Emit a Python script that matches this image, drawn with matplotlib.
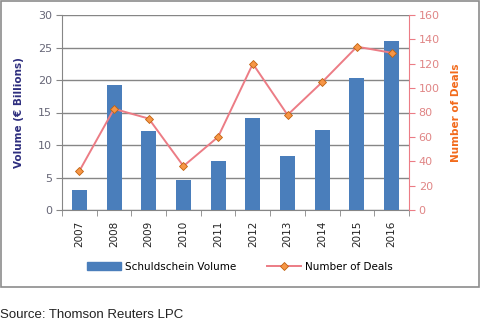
import numpy as np
import matplotlib
matplotlib.use("Agg")
import matplotlib.pyplot as plt
from matplotlib.lines import Line2D
from matplotlib.patches import Patch, Rectangle

years = ["2007", "2008", "2009", "2010", "2011", "2012", "2013", "2014", "2015", "2016"]
volume = [3.1, 19.2, 12.1, 4.6, 7.5, 14.1, 8.3, 12.3, 20.3, 26.0]
deals = [32, 83, 75, 36, 60, 120, 78, 105, 134, 129]

BAR = "#4A7EBB"
LINE = "#EC7C85"
MARK = "#F79646"
MARK_EDGE = "#C0620F"
GRID = "#868686"

fig = plt.figure(figsize=(4.81, 3.26), dpi=100)
fig.patch.set_facecolor("white")

# outer chart frame
fig.add_artist(Rectangle((0.5 / 481, 1 - 287 / 326), 479 / 481, 286 / 326,
                         transform=fig.transFigure, fill=False,
                         edgecolor="#8C8C8C", linewidth=1.2))

ax = fig.add_axes([62 / 481, 1 - 210 / 326, 347 / 481, 195 / 326])
x = np.arange(len(years))
ax.bar(x, volume, width=0.43, color=BAR, zorder=3)
ax.set_xlim(-0.5, len(years) - 0.5)
ax.set_ylim(0, 30)
ax.set_yticks(np.arange(0, 31, 5))
ax.yaxis.grid(True, color=GRID, linewidth=1.0, zorder=0)
ax.set_axisbelow(True)
ax.set_xticks(x)
ax.set_xticklabels(years, rotation=90, fontsize=7.5, color="#222222")
ax.set_xticks(np.arange(-0.5, len(years), 1), minor=True)
ax.tick_params(axis="x", which="major", length=0, pad=8)
ax.tick_params(axis="x", which="minor", length=4, color=GRID, direction="out")
ax.tick_params(axis="y", length=4, color=GRID, labelsize=8, labelcolor="#666677", pad=3)
for s in ("top", "right"):
    ax.spines[s].set_visible(False)
for s in ("left", "bottom"):
    ax.spines[s].set_color(GRID)
ax.set_ylabel("Volume (€ Billions)", fontsize=7.5, fontweight="bold", color="#2E2E7E", labelpad=10)

ax2 = ax.twinx()
ax2.set_ylim(0, 160)
ax2.set_yticks(np.arange(0, 161, 20))
ax2.plot(x, deals, color=LINE, linewidth=1.4, zorder=4,
         linestyle="-", marker="D", markersize=4.5,
         markerfacecolor=MARK, markeredgecolor=MARK_EDGE, markeredgewidth=0.6)
for s in ("top", "left", "bottom"):
    ax2.spines[s].set_visible(False)
ax2.spines["right"].set_color(LINE)
ax2.tick_params(axis="y", length=4, color=LINE, labelsize=8, labelcolor="#E08585", pad=3)
ax2.set_ylabel("Number of Deals", fontsize=7.5, fontweight="bold", color="#F26A1B", labelpad=8)

handles = [Patch(facecolor=BAR, edgecolor=BAR),
           Line2D([0], [0], color=LINE, linewidth=1.4, marker="D", markersize=4.5,
                  markerfacecolor=MARK, markeredgecolor=MARK_EDGE, markeredgewidth=0.6)]
fig.legend(handles, ["Schuldschein Volume", "Number of Deals"], loc="center",
           bbox_to_anchor=(240 / 481, 1 - 267 / 326), ncol=2, frameon=False,
           fontsize=7.5, handlelength=3.2, handleheight=0.8, columnspacing=3.0,
           handletextpad=0.4)

fig.text(0.5 / 481, 1 - 315 / 326, "Source: Thomson Reuters LPC", fontsize=9.5,
         family="Liberation Sans", color="#222222", va="center", ha="left")

fig.savefig("out.png", dpi=100, facecolor="white")
